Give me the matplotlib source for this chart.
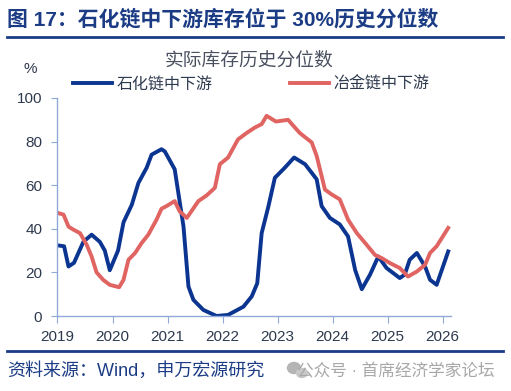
import matplotlib
matplotlib.use('Agg')
import matplotlib.pyplot as plt
from matplotlib.patches import Ellipse

plt.rcParams['font.family'] = ['Liberation Sans', 'Noto Sans CJK SC']
plt.rcParams['axes.unicode_minus'] = False

# 数据（从图上读取，横轴为年份小数）
petro_x = [2019.00, 2019.12, 2019.20, 2019.30, 2019.47, 2019.62, 2019.77, 2019.86, 2019.95,
           2020.10, 2020.20, 2020.35, 2020.47, 2020.62, 2020.71, 2020.89, 2020.95, 2021.13,
           2021.29, 2021.38, 2021.47, 2021.65, 2021.89, 2022.10, 2022.38, 2022.53, 2022.63,
           2022.71, 2022.83, 2022.95, 2023.13, 2023.30, 2023.50, 2023.71, 2023.80, 2023.95,
           2024.13, 2024.28, 2024.41, 2024.53, 2024.68, 2024.83, 2024.98, 2025.22, 2025.31,
           2025.40, 2025.53, 2025.68, 2025.77, 2025.89, 2026.10]
petro_y = [32.4, 32.0, 22.7, 24.4, 34.0, 37.3, 34.0, 30.0, 21.0,
           30.0, 43.0, 51.0, 61.0, 68.0, 74.0, 76.5, 75.5, 67.3,
           41.0, 13.5, 7.4, 2.8, 0.0, 0.5, 4.3, 9.0, 15.0,
           38.0, 50.0, 63.4, 68.0, 72.7, 69.6, 62.7, 50.4, 45.0,
           42.0, 36.5, 21.0, 12.3, 19.0, 27.3, 22.0, 17.4, 19.0,
           25.8, 28.9, 22.7, 16.6, 14.3, 29.6]

metal_x = [2019.00, 2019.11, 2019.20, 2019.29, 2019.41, 2019.53, 2019.62, 2019.71, 2019.83,
           2019.95, 2020.12, 2020.20, 2020.29, 2020.41, 2020.53, 2020.65, 2020.80, 2020.89,
           2020.98, 2021.13, 2021.22, 2021.35, 2021.56, 2021.71, 2021.86, 2021.95, 2022.10,
           2022.28, 2022.44, 2022.59, 2022.71, 2022.80, 2022.97, 2023.19, 2023.40, 2023.62,
           2023.71, 2023.86, 2023.98, 2024.13, 2024.28, 2024.44, 2024.59, 2024.77, 2024.89,
           2025.04, 2025.22, 2025.37, 2025.53, 2025.68, 2025.77, 2025.89, 2026.10]
metal_y = [47.3, 46.5, 41.0, 39.6, 38.0, 32.7, 27.3, 20.0, 16.6,
           14.3, 13.2, 16.6, 25.8, 28.9, 33.5, 37.3, 44.2, 49.2,
           50.4, 52.7, 48.0, 45.0, 52.7, 55.3, 58.8, 69.6, 72.7,
           81.0, 84.0, 86.5, 88.0, 91.8, 89.2, 90.0, 84.0, 79.6,
           73.4, 58.0, 55.8, 53.5, 44.2, 38.0, 33.5, 28.0, 26.6,
           24.3, 22.0, 18.1, 20.4, 23.5, 28.9, 32.0, 40.4]

years = [2019, 2020, 2021, 2022, 2023, 2024, 2025, 2026]

navy = '#1B3C85'
blue = '#0B3590'
red = '#E06462'
spine_c = '#8FAAD8'
text_c = '#2E3A4E'

fig = plt.figure(figsize=(5.11, 3.91), dpi=100)
ax = fig.add_axes([0.1125, 0.1918, 0.770, 0.5576])

ax.plot(petro_x, petro_y, color=blue, lw=2.8, label='石化链中下游', solid_joinstyle='round')
ax.plot(metal_x, metal_y, color=red, lw=2.8, label='冶金链中下游', solid_joinstyle='round')

ax.set_xlim(2019, 2026.15)
ax.set_ylim(0, 100)
ax.set_xticks(years)
ax.set_xticklabels([str(y) for y in years])
ax.set_yticks(range(0, 101, 20))
for s in ['top', 'right']:
    ax.spines[s].set_visible(False)
for s in ['left', 'bottom']:
    ax.spines[s].set_color(spine_c)
    ax.spines[s].set_linewidth(1.0)
ax.tick_params(axis='x', direction='out', length=5, color=spine_c, labelsize=11,
               labelcolor=text_c, pad=5)
ax.tick_params(axis='y', direction='out', length=4, color=spine_c, labelsize=11,
               labelcolor=text_c, pad=7)

fig.legend(loc='center left', bbox_to_anchor=(73 / 511, 1 - 84 / 391), ncol=2,
           frameon=False, fontsize=11.5, handlelength=2.45, handletextpad=0.3,
           columnspacing=4.8, borderpad=0, borderaxespad=0, labelcolor=text_c)

# 标题与说明
fig.text(7 / 511, 1 - 19 / 391, '图 17：石化链中下游库存位于 30%历史分位数', fontsize=15,
         fontweight='bold', color=navy, va='center', ha='left')
fig.add_artist(plt.Line2D([7 / 511, 503 / 511], [1 - 37 / 391, 1 - 37 / 391],
                          color=navy, lw=2))
fig.text(249 / 511, 1 - 61 / 391, '实际库存历史分位数', fontsize=13.5, color='#4A5060',
         ha='center', va='center')
fig.text(30 / 511, 1 - 69 / 391, '%', fontsize=11, color=text_c, ha='center', va='center')

fig.add_artist(plt.Line2D([7 / 511, 503 / 511], [1 - 351 / 391, 1 - 351 / 391],
                          color=navy, lw=2))
fig.text(7 / 511, 1 - 371 / 391, '资料来源：Wind，申万宏源研究', fontsize=13, color=navy,
         ha='left', va='center')
# 水印
fig.add_artist(Ellipse((294 / 511, 1 - 368 / 391), 13 / 511, 11 / 391, color='#B5B5B5'))
fig.add_artist(Ellipse((302 / 511, 1 - 373 / 391), 11 / 511, 9 / 391, color='#C8C8C8'))
fig.text(495 / 511, 1 - 370 / 391, '公众号 · 首席经济学家论坛', fontsize=12, color='#A8A8A8',
         ha='right', va='center')

fig.savefig('out.png', dpi=100)
